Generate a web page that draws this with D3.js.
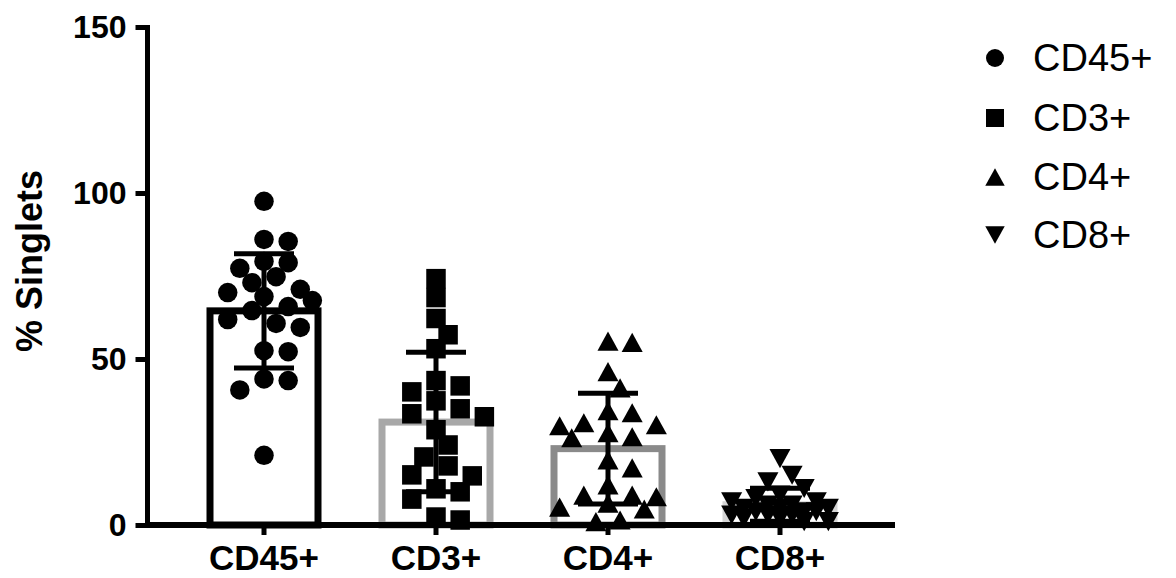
<!DOCTYPE html>
<html>
<head>
<meta charset="utf-8">
<script src="https://cdn.jsdelivr.net/npm/d3@7"></script>
<style>
  html, body { margin: 0; padding: 0; background: #fff; }
  svg { display: block; font-family: "Liberation Sans", Arial, Helvetica, sans-serif; }
</style>
</head>
<body>
<svg id="chart" width="1176" height="578"></svg>
<script>
// Cell populations as % of singlets, one value per sample
const categories = ["CD45+", "CD3+", "CD4+", "CD8+"];

const cd45Values = [97.5, 85.4, 86, 79, 79.4, 77.3, 74.8, 73, 70, 71, 68.8, 67.6,
                    65.8, 64.6, 61.9, 60.7, 59.5, 52.5, 52.2, 44, 43.5, 40.7, 21];
const cd3Values  = [74.2, 68.5, 62.2, 57.3, 53.1, 41.9, 43.5, 40.1, 37.4, 35, 32.6,
                    33.5, 28.7, 24.1, 20.5, 17.8, 14.8, 15.1, 10.9, 10, 7.8, 1.5, 2.4];
const cd4Values  = [55, 55.4, 46.2, 41.3, 34.4, 33.8, 30.8, 30.2, 27.8, 29.9, 26.6,
                    26.3, 19.6, 17.2, 12.1, 9, 8.5, 6.6, 9, 5.4, 4.8, 1, 1.5];
const cd8Values  = [20, 15, 13, 11, 9, 8, 7, 7, 6, 6, 5, 5, 5, 4, 4, 4, 3, 3, 3,
                    2, 2, 1, 1];

// Bar height (mean) and error bar half-length (SD)
const means = [64.5, 31, 23, 6.1];
const sds   = [17.2, 21, 16.7, 5];

const yTicks = [0, 50, 100, 150];
const yTitle = "% Singlets";

const seriesValues = [cd45Values, cd3Values, cd4Values, cd8Values];

// ---- appearance ----
const barStroke = ["#000000", "#a8a8a8", "#8a8a8a", "#d4d4d4"];
const markerKind = ["circle", "square", "triangle", "triangleDown"];

const svg = d3.select("#chart");

const x = d3.scaleBand().domain(categories).range([178, 866]).padding(0);
const y = d3.scaleLinear().domain([0, 150]).range([525, 27]);

const barWidth = 108;
const markerD = 19.5;

// Marker path generators, centred on (0,0), sized by overall width
const markerTypes = {
  circle: { draw(ctx, s) { const r = s / 2; ctx.moveTo(r, 0); ctx.arc(0, 0, r, 0, 2 * Math.PI); } },
  square: { draw(ctx, s) { const h = s / 2; ctx.rect(-h, -h, s, s); } },
  triangle: { draw(ctx, s) { const w = s * 1.08 / 2, h = s * 0.98 / 2;
    ctx.moveTo(0, -h); ctx.lineTo(w, h); ctx.lineTo(-w, h); ctx.closePath(); } },
  triangleDown: { draw(ctx, s) { const w = s * 1.08 / 2, h = s * 0.98 / 2;
    ctx.moveTo(0, h); ctx.lineTo(w, -h); ctx.lineTo(-w, -h); ctx.closePath(); } }
};
const markerPath = (kind, s) => d3.symbol().type(markerTypes[kind]).size(s)();

// Simple beeswarm: keep each value's y, push sideways to avoid overlap
function swarm(values, cx, d) {
  const order = values.map((v, i) => ({ v, i })).sort((a, b) => b.v - a.v);
  const placed = [];
  const step = d * 0.62;
  const minD = d * 0.92;
  const maxK = 4;
  order.forEach(p => {
    const py = y(p.v);
    const offsets = [0];
    for (let k = 1; k <= maxK; k++) { offsets.push(k * step, -k * step); }
    let chosen = null, bestD = -1, bestOff = 0;
    for (const off of offsets) {
      let md = Infinity;
      for (const q of placed) md = Math.min(md, Math.hypot(q.x - (cx + off), q.y - py));
      if (md >= minD) { chosen = off; break; }
      if (md > bestD) { bestD = md; bestOff = off; }
    }
    if (chosen === null) chosen = bestOff;
    placed.push({ x: cx + chosen, y: py, v: p.v });
  });
  return placed;
}

// ---- bars ----
const g = svg.append("g");
g.selectAll("rect.bar")
  .data(categories)
  .join("rect")
  .attr("class", "bar")
  .attr("x", d => x(d) + x.bandwidth() / 2 - barWidth / 2)
  .attr("width", barWidth)
  .attr("y", (d, i) => y(means[i]))
  .attr("height", (d, i) => y(0) - y(means[i]))
  .attr("fill", "#fff")
  .attr("stroke", (d, i) => barStroke[i])
  .attr("stroke-width", 7);

// ---- points ----
categories.forEach((c, i) => {
  const cx = x(c) + x.bandwidth() / 2;
  const pts = swarm(seriesValues[i], cx, markerD);
  g.append("g").selectAll("path")
    .data(pts)
    .join("path")
    .attr("d", markerPath(markerKind[i], markerD))
    .attr("transform", p => `translate(${p.x},${p.y})`)
    .attr("fill", "#000");
});

// ---- error bars (mean ± SD) ----
const capHalf = 30;
categories.forEach((c, i) => {
  const cx = x(c) + x.bandwidth() / 2;
  const lo = Math.max(0, means[i] - sds[i]), hi = means[i] + sds[i];
  const eg = g.append("g").attr("stroke", "#000").attr("stroke-width", 5);
  eg.append("line").attr("x1", cx).attr("x2", cx).attr("y1", y(lo)).attr("y2", y(hi));
  eg.append("line").attr("x1", cx - capHalf).attr("x2", cx + capHalf).attr("y1", y(hi)).attr("y2", y(hi));
  eg.append("line").attr("x1", cx - capHalf).attr("x2", cx + capHalf).attr("y1", y(lo)).attr("y2", y(lo));
});

// ---- axes ----
const yAxis = d3.axisLeft(y).tickValues(yTicks).tickSize(12).tickPadding(9).tickFormat(d3.format("d"));
const yG = svg.append("g").attr("transform", "translate(147.5,0)").call(yAxis);
yG.select(".domain").attr("stroke", "#000").attr("stroke-width", 5)
  .attr("d", `M0,${y(150) - 2}V${y(0) + 3}`);
yG.selectAll(".tick line").attr("stroke", "#000").attr("stroke-width", 5);
yG.selectAll(".tick text").attr("fill", "#000").attr("font-size", 32).attr("font-weight", "bold")
  .attr("font-family", "Liberation Sans, Arial, sans-serif");

const xAxis = d3.axisBottom(x).tickSize(10).tickPadding(10);
const xG = svg.append("g").attr("transform", `translate(0,${y(0)})`).call(xAxis);
xG.select(".domain").attr("stroke", "#000").attr("stroke-width", 6)
  .attr("d", "M145,0H895");
xG.selectAll(".tick line").attr("stroke", "#000").attr("stroke-width", 5);
xG.selectAll(".tick text").attr("fill", "#000").attr("font-size", 35).attr("font-weight", "bold")
  .attr("font-family", "Liberation Sans, Arial, sans-serif");

// y axis title
svg.append("text")
  .attr("transform", "translate(42,261) rotate(-90)")
  .attr("text-anchor", "middle")
  .attr("font-size", 36)
  .attr("font-weight", "bold")
  .attr("fill", "#000")
  .text(yTitle);

// ---- legend ----
const legendY = [58, 118, 177, 235];
const lg = svg.append("g");
categories.forEach((c, i) => {
  const row = lg.append("g").attr("transform", `translate(995,${legendY[i]})`);
  row.append("path").attr("d", markerPath(markerKind[i], 18)).attr("fill", "#000");
  row.append("text").attr("x", 38).attr("y", 13).attr("font-size", 38)
    .attr("fill", "#000").text(c);
});
</script>
</body>
</html>
